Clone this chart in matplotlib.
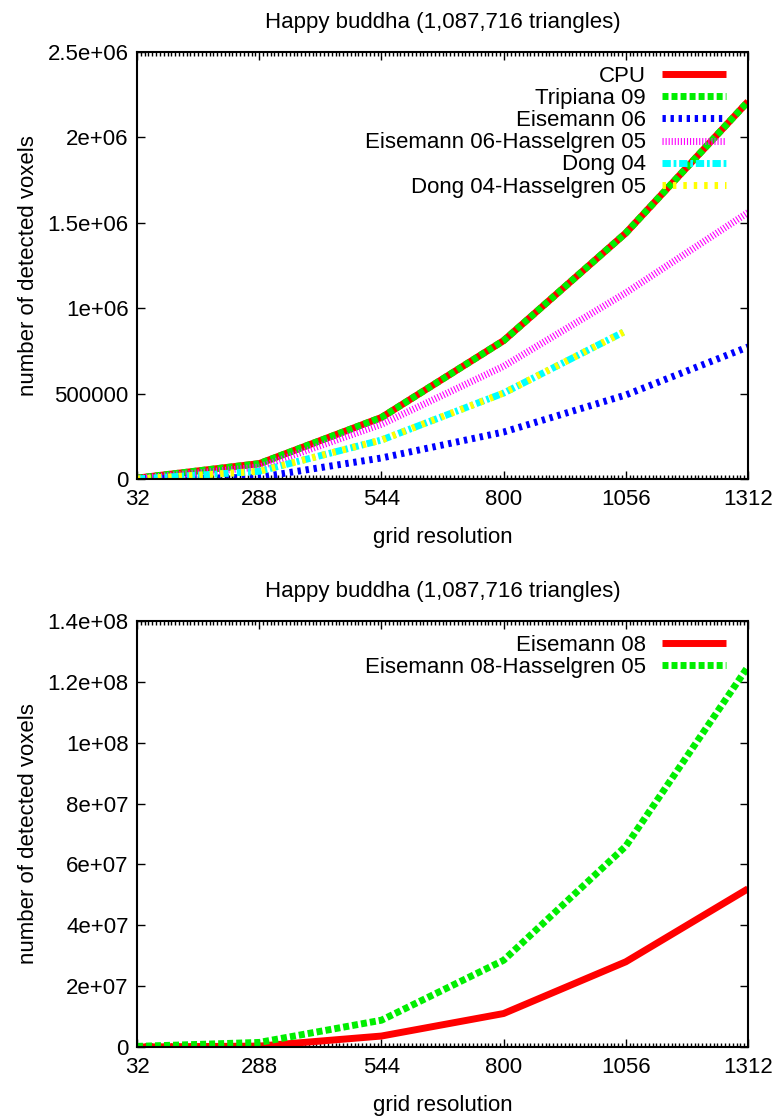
import matplotlib
matplotlib.use("Agg")
import matplotlib.pyplot as plt
from matplotlib.ticker import FixedLocator, FixedFormatter, MultipleLocator

plt.rcParams['font.family'] = ['Liberation Sans', 'DejaVu Sans']
plt.rcParams['lines.scale_dashes'] = False

title = "Happy buddha (1,087,716 triangles)"
xlabel = "grid resolution"
ylabel = "number of detected voxels"

# grid resolutions
res = [32, 288, 544, 800, 1056, 1312]
res_dong = [32, 288, 544, 800, 1056]

# top panel series
cpu = [5000, 90000, 360000, 810000, 1440000, 2210000]
tripiana = [5000, 90000, 360000, 810000, 1440000, 2210000]
eisemann06 = [0, 10000, 123000, 275000, 492000, 773000]
eisemann06_hass = [3000, 70000, 320000, 660000, 1090000, 1560000]
dong04 = [0, 45000, 228000, 503000, 867000]
dong04_hass = [0, 45000, 228000, 503000, 867000]

# bottom panel series
eisemann08 = [0, 300000, 3600000, 11000000, 28000000, 52000000]
eisemann08_hass = [200000, 1500000, 8800000, 28500000, 66000000, 125000000]

xticks = [32, 288, 544, 800, 1056, 1312]
xticklabels = ["32", "288", "544", "800", "1056", "1312"]
yticks_top = [0, 500000, 1000000, 1500000, 2000000, 2500000]
yticklabels_top = ["0", "500000", "1e+06", "1.5e+06", "2e+06", "2.5e+06"]
yticks_bot = [0, 2e7, 4e7, 6e7, 8e7, 1e8, 1.2e8, 1.4e8]
yticklabels_bot = ["0", "2e+07", "4e+07", "6e+07", "8e+07", "1e+08", "1.2e+08", "1.4e+08"]

W, H = 780, 1119
fig = plt.figure(figsize=(W / 100, H / 100), dpi=100)

L = 137 / W
R = 748 / W
ax1 = fig.add_axes([L, 1 - 479 / H, R - L, (479 - 52) / H])
ax2 = fig.add_axes([L, 1 - 1047 / H, R - L, (1047 - 621) / H])

FS = 16
LW = 5.0

def style(ax, yticks, ylabels, ymax):
    ax.set_xlim(32, 1312)
    ax.set_ylim(0, ymax)
    ax.xaxis.set_major_locator(FixedLocator(xticks))
    ax.xaxis.set_major_formatter(FixedFormatter(xticklabels))
    ax.xaxis.set_minor_locator(MultipleLocator(8))
    ax.yaxis.set_major_locator(FixedLocator(yticks))
    ax.yaxis.set_major_formatter(FixedFormatter(ylabels))
    ax.tick_params(which='both', direction='in', top=True, right=True,
                   labelsize=FS, width=1.0, color='black')
    ax.tick_params(which='major', length=6)
    ax.tick_params(which='minor', length=3)
    ax.tick_params(axis='x', pad=7)
    ax.tick_params(axis='y', pad=6)
    for s in ax.spines.values():
        s.set_linewidth(1.5)
    ax.set_title(title, fontsize=FS, pad=17.5)
    ax.set_xlabel(xlabel, fontsize=FS, labelpad=12.5)
    ax.set_ylabel(ylabel, fontsize=FS, labelpad=6.5)

LEG = dict(loc='upper right', frameon=False, markerfirst=False, fontsize=FS,
           handlelength=2.9, handletextpad=0.7, labelspacing=0.05,
           borderaxespad=0, borderpad=0)

# top panel
ax1.plot(res, cpu, color='#ff0000', lw=LW, label='CPU', solid_capstyle='butt')
ax1.plot(res, tripiana, color='#00ee00', lw=LW, dashes=(4.3, 2.2), label='Tripiana 09')
ax1.plot(res, eisemann06, color='#0000ff', lw=LW, dashes=(2.4, 3.4), label='Eisemann 06')
ax1.plot(res, eisemann06_hass, color='#ff00ff', lw=LW, dashes=(0.8, 1.4), label='Eisemann 06-Hasselgren 05')
ax1.plot(res_dong, dong04, color='#00ffff', lw=LW, dashes=(6.0, 2.0, 2.0, 2.0), label='Dong 04')
ax1.plot(res_dong, dong04_hass, color='#ffff00', lw=LW, dashes=(2.5, 5.0), label='Dong 04-Hasselgren 05')
style(ax1, yticks_top, yticklabels_top, 2.5e6)
ax1.legend(bbox_to_anchor=(1 - 22 / 611, 1 - 14 / 427), **LEG)

# bottom panel
ax2.plot(res, eisemann08, color='#ff0000', lw=LW, label='Eisemann 08', solid_capstyle='butt')
ax2.plot(res, eisemann08_hass, color='#00ee00', lw=LW, dashes=(4.3, 2.2), label='Eisemann 08-Hasselgren 05')
style(ax2, yticks_bot, yticklabels_bot, 1.4e8)
ax2.legend(bbox_to_anchor=(1 - 22 / 611, 1 - 14 / 426), **LEG)

fig.savefig('out.png', dpi=100)
